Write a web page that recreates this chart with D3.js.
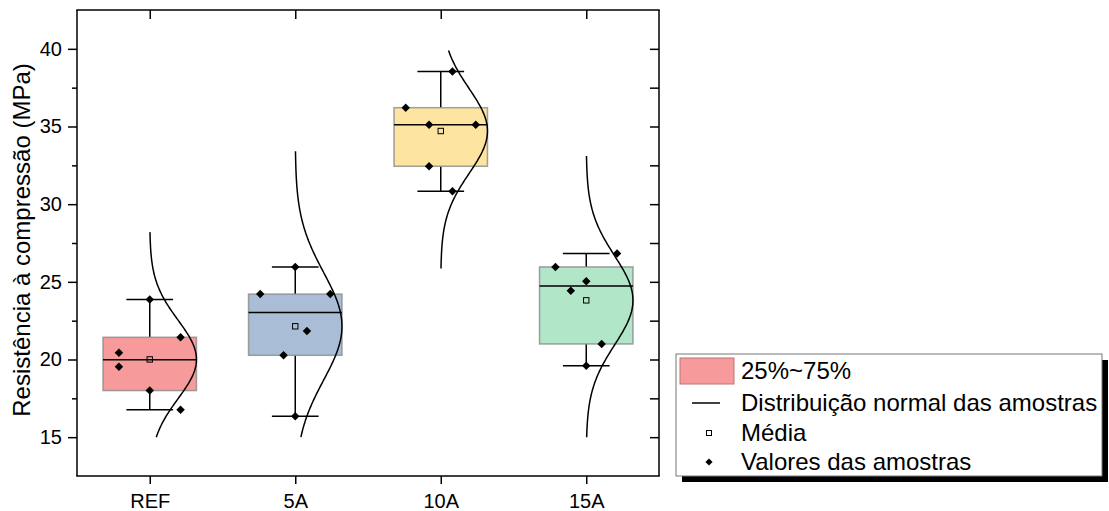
<!DOCTYPE html>
<html>
<head>
    <meta charset="utf-8">
    <script src="https://d3js.org/d3.v7.min.js"></script>
    <style>
        body { margin: 0; background: #fff; }
        svg { display: block; font-family: "Liberation Sans", Arial, sans-serif; }
        .axis path, .axis line { stroke: #000; stroke-width: 1.5; }
        .axis text { font-size: 20px; fill: #000; font-family: "Liberation Sans", Arial, sans-serif; }
        .legend text { font-size: 24px; fill: #000; }
    </style>
</head>
<body>
<div id="chart"></div>
<script>
    // data
    const categories = ["REF", "5A", "10A", "15A"];
    const samples = [
        [23.87, 21.43, 20.44, 19.54, 18.00, 16.76],
        [25.96, 24.21, 24.21, 21.83, 20.27, 16.35],
        [38.54, 36.21, 35.12, 35.12, 32.44, 30.83],
        [26.83, 25.96, 25.04, 24.42, 21.00, 19.60]
    ];
    // horizontal spread of the sample dots, as a share of the box half width
    const jitter = [
        [0, 0.66, -0.66, -0.66, 0, 0.66],
        [0, -0.75, 0.75, 0.25, -0.25, 0],
        [0.25, -0.75, -0.25, 0.75, -0.25, 0.25],
        [0.66, -0.66, 0, -0.33, 0.33, 0]
    ];
    // value range over which each normal curve is drawn
    const curveLow = [15, 15, 25.86, 15];
    const curveHigh = [28.2, 33.4, 39.9, 33.1];
    const boxColors = ["#f69a9b", "#a9bed6", "#fde4a1", "#b1e6c9"];
    const majorTicks = [15, 20, 25, 30, 35, 40];
    const minorTicks = [17.5, 22.5, 27.5, 32.5, 37.5];
    const legendLabels = ["25%~75%", "Distribuição normal das amostras", "Média", "Valores das amostras"];

    const width = 1109, height = 511;
    const margin = { top: 10, right: 450, bottom: 35, left: 77 };

    const svg = d3.select("#chart").append("svg")
        .attr("width", width)
        .attr("height", height);

    const x = d3.scalePoint()
        .domain(categories)
        .range([margin.left, width - margin.right])
        .padding(0.5);

    const y = d3.scaleLinear()
        .domain([12.5, 42.5])
        .range([height - margin.bottom, margin.top]);

    const halfW = x.step() * 0.321;

    // Tukey hinges (median of lower / upper half)
    function stats(vals) {
        const s = vals.slice().sort(d3.ascending);
        const n = s.length, h = Math.floor(n / 2);
        return {
            min: s[0],
            max: s[n - 1],
            median: d3.median(s),
            q1: d3.median(s.slice(0, Math.ceil(n / 2))),
            q3: d3.median(s.slice(h)),
            mean: d3.mean(s),
            sd: d3.deviation(s)
        };
    }

    const groups = categories.map((c, i) => ({ cat: c, i: i, vals: samples[i], st: stats(samples[i]) }));

    const g = svg.append("g");

    // boxes
    groups.forEach(d => {
        const cx = x(d.cat);
        const st = d.st;
        const gg = g.append("g");

        gg.append("line")
            .attr("x1", cx).attr("x2", cx)
            .attr("y1", y(st.max)).attr("y2", y(st.q3))
            .attr("stroke", "#000").attr("stroke-width", 1.5);
        gg.append("line")
            .attr("x1", cx).attr("x2", cx)
            .attr("y1", y(st.q1)).attr("y2", y(st.min))
            .attr("stroke", "#000").attr("stroke-width", 1.5);
        [st.max, st.min].forEach(v => {
            gg.append("line")
                .attr("x1", cx - halfW / 2).attr("x2", cx + halfW / 2)
                .attr("y1", y(v)).attr("y2", y(v))
                .attr("stroke", "#000").attr("stroke-width", 1.5);
        });

        gg.append("rect")
            .attr("x", cx - halfW)
            .attr("y", y(st.q3))
            .attr("width", halfW * 2)
            .attr("height", y(st.q1) - y(st.q3))
            .attr("fill", boxColors[d.i])
            .attr("stroke", "#8a8a8a")
            .attr("stroke-opacity", 0.8)
            .attr("stroke-width", 1.5);

        gg.append("line")
            .attr("x1", cx - halfW).attr("x2", cx + halfW)
            .attr("y1", y(st.median)).attr("y2", y(st.median))
            .attr("stroke", "#000").attr("stroke-width", 1.5);

        // normal distribution of the samples
        const vs = d3.range(curveLow[d.i], curveHigh[d.i], 0.05).concat([curveHigh[d.i]]);
        const line = d3.line()
            .x(v => cx + halfW * Math.exp(-0.5 * Math.pow((v - st.mean) / st.sd, 2)))
            .y(v => y(v));
        gg.append("path")
            .attr("d", line(vs))
            .attr("fill", "none")
            .attr("stroke", "#000")
            .attr("stroke-width", 1.5);

        gg.append("rect")
            .attr("x", cx - 2.7).attr("y", y(st.mean) - 2.7)
            .attr("width", 5.4).attr("height", 5.4)
            .attr("fill", "none")
            .attr("stroke", "#000")
            .attr("stroke-width", 1);

        gg.selectAll("path.dot")
            .data(d.vals)
            .join("path")
            .attr("class", "dot")
            .attr("d", d3.symbol(d3.symbolSquare, 36)())
            .attr("transform", (v, j) => `translate(${cx + jitter[d.i][j] * halfW},${y(v)}) rotate(45)`)
            .attr("fill", "#000");
    });

    // axes
    const plotBottom = height - margin.bottom, plotTop = margin.top;
    const plotLeft = margin.left, plotRight = width - margin.right;

    svg.append("g").attr("class", "axis")
        .attr("transform", `translate(${plotLeft},0)`)
        .call(d3.axisLeft(y).tickValues(majorTicks).tickSize(9).tickSizeOuter(0).tickPadding(6))
        .call(a => a.select(".domain").attr("d", `M0,${plotTop}V${plotBottom}`));
    svg.append("g").attr("class", "axis")
        .attr("transform", `translate(${plotLeft},0)`)
        .call(d3.axisLeft(y).tickValues(minorTicks).tickSize(5).tickFormat(""))
        .call(a => a.select(".domain").remove());

    svg.append("g").attr("class", "axis")
        .attr("transform", `translate(${plotRight},0)`)
        .call(d3.axisLeft(y).tickValues(majorTicks.concat(minorTicks)).tickSize(9).tickFormat(""))
        .call(a => a.select(".domain").attr("d", `M0,${plotTop}V${plotBottom}`));

    svg.append("g").attr("class", "axis")
        .attr("transform", `translate(0,${plotBottom})`)
        .call(d3.axisBottom(x).tickSize(8).tickSizeOuter(0).tickPadding(10))
        .call(a => a.select(".domain").attr("d", `M${plotLeft - 0.75},0H${plotRight + 0.75}`));

    svg.append("g").attr("class", "axis")
        .attr("transform", `translate(0,${plotTop})`)
        .call(d3.axisTop(x).tickSize(-9).tickFormat(""))
        .call(a => a.select(".domain").attr("d", `M${plotLeft - 0.75},0H${plotRight + 0.75}`));

    svg.append("text")
        .attr("transform", `translate(30,${(plotTop + plotBottom) / 2 - 3}) rotate(-90)`)
        .attr("text-anchor", "middle")
        .style("font-size", "24px")
        .text("Resistência à compressão (MPa)");

    // legend
    const lg = svg.append("g").attr("class", "legend");
    const lx = 676, ly = 354, lw = 426, lh = 122;
    lg.append("rect").attr("x", lx + 6).attr("y", ly + 6).attr("width", lw).attr("height", lh).attr("fill", "#000");
    lg.append("rect").attr("x", lx).attr("y", ly).attr("width", lw).attr("height", lh)
        .attr("fill", "#fff").attr("stroke", "#777").attr("stroke-width", 1);

    const rowY = [371, 403, 433, 462];
    lg.append("rect").attr("x", lx + 4).attr("y", rowY[0] - 13).attr("width", 54).attr("height", 26)
        .attr("fill", boxColors[0]).attr("stroke", "#b77").attr("stroke-width", 1);
    lg.append("line").attr("x1", lx + 16).attr("x2", lx + 44).attr("y1", rowY[1]).attr("y2", rowY[1])
        .attr("stroke", "#000").attr("stroke-width", 1.5);
    lg.append("rect").attr("x", lx + 33 - 2.5).attr("y", rowY[2] - 2.5).attr("width", 5).attr("height", 5)
        .attr("fill", "#fff").attr("stroke", "#000").attr("stroke-width", 1);
    lg.append("path").attr("d", d3.symbol(d3.symbolSquare, 26)())
        .attr("transform", `translate(${lx + 33},${rowY[3]}) rotate(45)`).attr("fill", "#000");

    lg.selectAll("text.lbl")
        .data(legendLabels)
        .join("text")
        .attr("class", "lbl")
        .attr("x", lx + 65)
        .attr("y", (d, i) => rowY[i])
        .attr("dy", "0.35em")
        .text(d => d);
</script>
</body>
</html>
